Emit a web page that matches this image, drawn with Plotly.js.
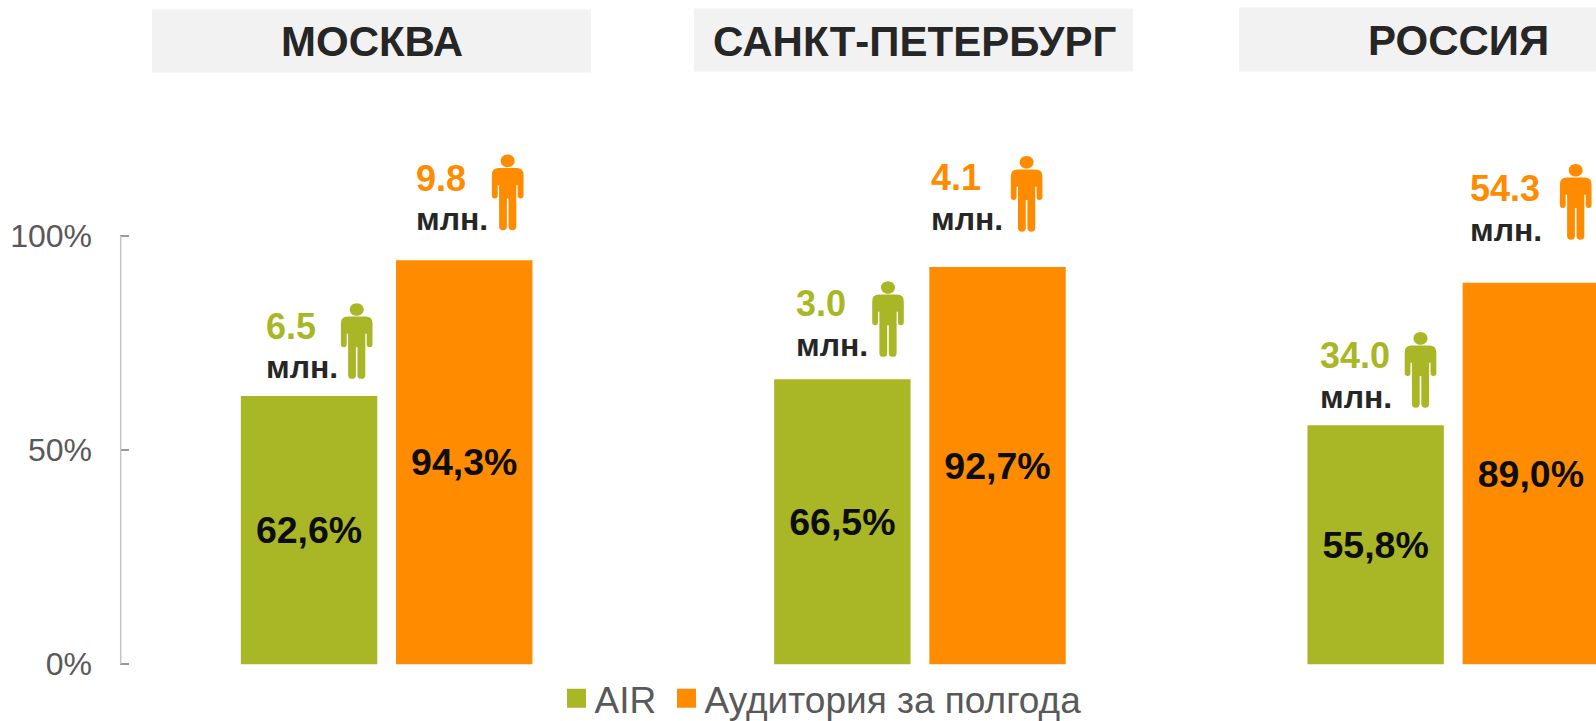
<!DOCTYPE html>
<html>
<head>
<meta charset="utf-8">
<script src="https://cdn.plot.ly/plotly-3.0.1.min.js"></script>
<style>html,body{margin:0;padding:0;background:#fff;overflow:hidden}</style>
</head>
<body>
<div id="chart" style="width:1596px;height:721px"></div>
<script>
const categories = ['МОСКВА', 'САНКТ-ПЕТЕРБУРГ', 'РОССИЯ'];
const tickValues = [0, 50, 100];
const airName = 'AIR';
const audienceName = 'Аудитория за полгода';
const airValues = [62.6, 66.5, 55.8];
const audienceValues = [94.3, 92.7, 89.0];
const airMillions = [6.5, 3.0, 34.0];
const audienceMillions = [9.8, 4.1, 54.3];
const unitLabel = 'млн.';

const GREEN = '#A9B726', ORANGE = '#FF8C00', DARK = '#262626', GREY = '#595959';
const FONT = '"Liberation Sans", Arial, sans-serif';
const W = 1596, H = 721, L = 120, CAT = 533.3;
// The y range is padded a little so the 0% and 100% ticks are not dropped at the plot edges.
const Y0 = 664.5, Y100 = 235.5, PAD = 0.4, UNIT = (Y0 - Y100) / 100;
const T = Y100 - PAD * UNIT, B = Y0 + PAD * UNIT;
const px = x => (x - L) / (W - L);
const py = y => (B - y) / (B - T);

const headerBoxes = [[152, 591, 9, 72], [694, 1133, 8, 71], [1239, 1596, 7, 71]];
const headerText = [[371.5, 41], [914, 41], [1458, 40]];
// icon centre x, icon top y, text left x, number centre y, unit centre y
const airIcons = [
  [356.7, 303, 264.5, 326.7, 367],
  [888, 281, 794.5, 303.4, 345],
  [1420.5, 332, 1318.5, 355.4, 397]
];
const audienceIcons = [
  [507.7, 154.3, 415, 177.8, 219],
  [1026.6, 155.7, 929.5, 177.1, 219],
  [1575.7, 163.7, 1469, 188.3, 230]
];

// Pictogram outline: x from centre, y measured downward from the top of the head
const personPath = () => {
  const pts = (x, y) => x + ',' + (-y);
  const right = [
    'L' + pts(9, 13.4), 'Q' + pts(15.8, 13.4) + ' ' + pts(15.8, 20),
    'L' + pts(15.8, 41), 'Q' + pts(15.8, 44) + ' ' + pts(12.9, 44),
    'Q' + pts(10, 44) + ' ' + pts(10, 41), 'L' + pts(10, 30.7),
    'L' + pts(8.6, 30.7), 'L' + pts(8.6, 72),
    'Q' + pts(8.6, 75.7) + ' ' + pts(4.7, 75.7),
    'Q' + pts(0.8, 75.7) + ' ' + pts(0.8, 72), 'L' + pts(0.8, 44)
  ].join(' ');
  const left = 'L' + pts(-0.8, 44) + ' L' + pts(-0.8, 72) +
    ' Q' + pts(-0.8, 75.7) + ' ' + pts(-4.7, 75.7) +
    ' Q' + pts(-8.6, 75.7) + ' ' + pts(-8.6, 72) +
    ' L' + pts(-8.6, 30.7) + ' L' + pts(-10, 30.7) + ' L' + pts(-10, 41) +
    ' Q' + pts(-10, 44) + ' ' + pts(-12.9, 44) +
    ' Q' + pts(-15.8, 44) + ' ' + pts(-15.8, 41) +
    ' L' + pts(-15.8, 20) + ' Q' + pts(-15.8, 13.4) + ' ' + pts(-9, 13.4);
  const head = 'M' + pts(-7, 6.3) +
    ' C' + pts(-7, 2.8) + ' ' + pts(-3.9, 0) + ' ' + pts(0, 0) +
    ' C' + pts(3.9, 0) + ' ' + pts(7, 2.8) + ' ' + pts(7, 6.3) +
    ' C' + pts(7, 9.8) + ' ' + pts(3.9, 12.6) + ' ' + pts(0, 12.6) +
    ' C' + pts(-3.9, 12.6) + ' ' + pts(-7, 9.8) + ' ' + pts(-7, 6.3) + ' Z';
  return 'M' + pts(-9, 13.4) + ' ' + right + ' ' + left + ' Z ' + head;
};

const shapes = headerBoxes.map(b => ({
  type: 'rect', xref: 'paper', yref: 'paper', layer: 'below',
  x0: px(b[0]), x1: px(b[1]), y0: py(b[2]), y1: py(b[3]),
  fillcolor: '#F2F2F2', line: { width: 0 }
}));
// Value axis line, running exactly from 0% to 100%
shapes.push({
  type: 'line', xref: 'paper', yref: 'y', x0: px(120.7), x1: px(120.7), y0: 0, y1: 100,
  line: { color: '#C4C4C4', width: 1.5 }
});
const annotations = categories.map((c, i) => ({
  text: c, xref: 'paper', yref: 'paper', x: px(headerText[i][0]), y: py(headerText[i][1]),
  xanchor: 'center', yanchor: 'middle', showarrow: false,
  font: { family: FONT, size: 42, color: DARK, weight: 700 }
}));

function addIcons(icons, millions, color) {
  icons.forEach((ic, i) => {
    shapes.push({
      type: 'path', xref: 'paper', yref: 'paper',
      xsizemode: 'pixel', ysizemode: 'pixel',
      xanchor: px(ic[0]), yanchor: py(ic[1]),
      path: personPath(), fillcolor: color, line: { width: 0 }
    });
    annotations.push({
      text: millions[i].toFixed(1), xref: 'paper', yref: 'paper',
      x: px(ic[2]), y: py(ic[3]), xanchor: 'left', yanchor: 'middle',
      showarrow: false, borderpad: 0,
      font: { family: FONT, size: 36, color: color, weight: 700 }
    });
    annotations.push({
      text: unitLabel, xref: 'paper', yref: 'paper',
      x: px(ic[2]), y: py(ic[4]), xanchor: 'left', yanchor: 'middle',
      showarrow: false, borderpad: 0,
      font: { family: FONT, size: 32, color: DARK, weight: 700 }
    });
  });
}
addIcons(airIcons, airMillions, GREEN);
addIcons(audienceIcons, audienceMillions, ORANGE);

const fmt = v => v.toFixed(1).replace('.', ',') + '%';
const barTrace = (name, values, color) => ({
  type: 'bar', name: name, x: categories, y: values,
  marker: { color: color, line: { width: 0 } },
  text: values.map(fmt), textposition: 'inside', insidetextanchor: 'middle',
  textangle: 0, constraintext: 'none',
  insidetextfont: { family: FONT, size: 37.5, color: '#0D0D0D', weight: 700 },
  hoverinfo: 'name+y'
});

const traces = [
  Object.assign(barTrace(airName, airValues, GREEN), { legendwidth: 65 }),
  barTrace(audienceName, audienceValues, ORANGE)
];

const layout = {
  width: W, height: H,
  margin: { l: L, r: 0, t: T, b: H - B, pad: 0, autoexpand: false },
  paper_bgcolor: '#fff', plot_bgcolor: '#fff',
  font: { family: FONT, color: GREY },
  barmode: 'group', bargap: 0.418, bargroupgap: 0.121,
  xaxis: {
    type: 'category', range: [-0.5, (W - L) / CAT - 0.5], autorange: false,
    showticklabels: false, ticks: '', showline: false, showgrid: false, zeroline: false
  },
  yaxis: {
    range: [-PAD, 100 + PAD], autorange: false, tickmode: 'array', tickvals: tickValues,
    ticktext: tickValues.map(v => v + '%'),
    ticks: 'inside', ticklen: 9, tickwidth: 1.5, tickcolor: '#999999',
    showline: false, showgrid: false, zeroline: false, ticklabelstandoff: 27,
    tickfont: { family: FONT, size: 32, color: GREY }
  },
  legend: {
    orientation: 'h', x: px(554.5), xanchor: 'left', y: py(699), yanchor: 'middle',
    bgcolor: 'rgba(0,0,0,0)', font: { family: FONT, size: 37, color: GREY },
    traceorder: 'normal'
  },
  showlegend: true,
  shapes: shapes, annotations: annotations
};

const gd = document.getElementById('chart');
const growLegendKeys = () => gd.querySelectorAll('.legendpoints path')
  .forEach(p => p.setAttribute('d', 'M11.5,9.5H-7.5V-9.5H11.5Z'));
Plotly.newPlot(gd, traces, layout, { displayModeBar: false, responsive: false }).then(() => {
  growLegendKeys();
  gd.on('plotly_afterplot', growLegendKeys);
});
</script>
</body>
</html>
